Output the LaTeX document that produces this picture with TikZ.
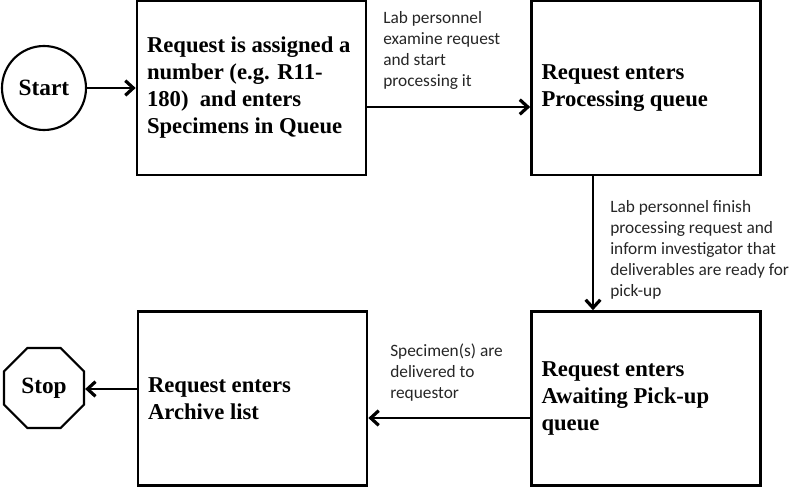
\documentclass[tikz,border=0pt]{standalone}
\usepackage{fontspec}
\setmainfont{Liberation Serif}
\newfontfamily\labelfont{Carlito}
\usetikzlibrary{arrows.meta,shapes.geometric,calc}
\begin{document}
\begin{tikzpicture}[x=0.75pt,y=-0.75pt,
  box/.style={draw,line width=2pt,minimum width=171.75pt,minimum height=130.5pt,
    inner xsep=7.5pt,text width=156.75pt,align=flush left,
    font=\bfseries\fontsize{17}{20.25}\selectfont},
  term/.style={draw,line width=1.6pt,font=\bfseries\fontsize{17.5}{20}\selectfont,inner sep=0pt},
  lbl/.style={anchor=north west,inner sep=0pt,align=left,text=black!85,
    font=\labelfont\fontsize{13}{15.75}\selectfont},
  flow/.style={line width=2pt,-{Straight Barb[length=6pt,width=11pt,line width=2.4pt]}}]
\useasboundingbox (0,0) rectangle (793,488);
\node[term,circle,minimum size=63pt] (start) at (44,88) {Start};
\node[term,regular polygon,regular polygon sides=8,minimum size=65pt] (stop) at (44,388) {Stop};
\node[box] (b1) at (251.5,88) {Request is assigned a\\number (e.g. R11-\\180)\ \ and enters\\Specimens in Queue};
\node[box] (b2) at (646,88) {Request enters\\Processing queue};
\node[box] (b3) at (646,398.5) {Request enters\\Awaiting Pick-up\\queue};
\node[box] (b4) at (252.5,398.5) {Request enters\\Archive list};
\node[lbl] (l1) at (383,11) {Lab personnel\\examine request\\and start\\processing it};
\node[lbl] (l2) at (610,200) {Lab personnel finish\\processing request and\\inform investigator that\\deliverables are ready for\\pick-up};
\node[lbl] (l3) at (390,344) {Specimen(s) are\\delivered to\\requestor};
\draw[flow] (start) -- (b1);
\draw[flow] ($(b1.east)+(0,19)$) -- ($(b2.west)+(0,19)$);
\draw[flow] ($(b2.south)+(-53,0)$) -- ($(b3.north)+(-53,0)$);
\draw[flow] ($(b3.west)+(0,19.5)$) -- ($(b4.east)+(0,19.5)$);
\draw[flow] ($(b4.west)+(0,-9.5)$) -- (stop.east |- {$(b4.west)+(0,-9.5)$});
\end{tikzpicture}
\end{document}
